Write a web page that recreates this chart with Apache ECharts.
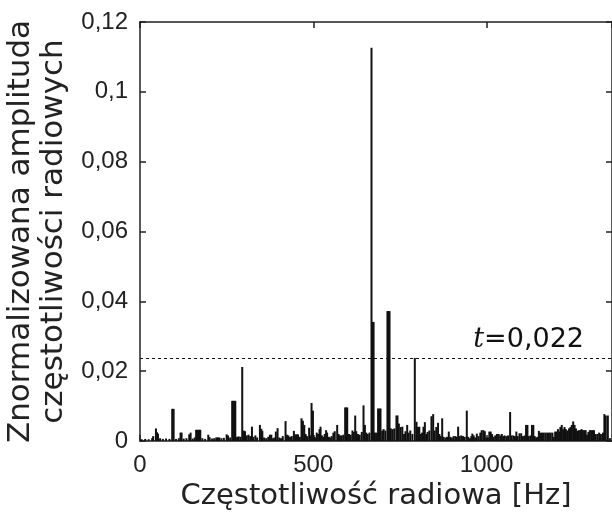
<!DOCTYPE html>
<html>
<head>
<meta charset="utf-8">
<script src="https://cdn.jsdelivr.net/npm/echarts@6/dist/echarts.min.js"></script>
<style>html,body{margin:0;padding:0;background:#fff}#c{width:612px;height:513px}</style>
</head>
<body>
<div id="c"></div>
<script>
// Frequency bins [Hz] and normalized amplitudes
const freqs = [5,15,25,35,38,46,49,52,58,66,75,85,93,95,97,104,112,117,120,126,134,142,146,152,158,162,165,168,171,174,180,188,197,201,208,214,220,223,226,229,235,242,250,254,260,266,269,272,275,280,285,290,295,299,303,308,313,318,323,327,333,338,346,350,353,358,364,370,375,379,384,388,392,397,402,407,412,420,424,428,433,438,444,448,452,456,461,466,470,474,478,482,488,491,495,499,503,507,510,514,518,521,525,529,533,537,540,545,549,553,558,562,569,573,577,582,587,592,595,598,603,608,613,617,621,624,629,634,640,645,649,653,657,662,668,671,674,678,683,687,691,694,699,703,708,714,717,720,724,729,734,740,743,747,752,757,762,766,771,775,780,786,793,798,802,806,810,814,818,822,826,830,835,841,846,850,855,860,864,868,872,876,881,886,891,895,900,905,910,914,918,922,927,932,937,943,947,952,956,959,963,967,972,977,982,986,991,995,999,1004,1008,1012,1016,1020,1025,1030,1035,1040,1044,1048,1052,1057,1062,1068,1072,1077,1082,1086,1090,1095,1100,1105,1110,1114,1118,1122,1127,1131,1135,1139,1143,1147,1151,1155,1160,1165,1170,1175,1180,1185,1190,1194,1198,1202,1206,1210,1213,1217,1221,1225,1229,1233,1238,1242,1246,1250,1254,1258,1262,1266,1270,1274,1278,1282,1286,1290,1294,1298,1302,1306,1310,1315,1320,1325,1330,1336,1340,1344,1350,1356];
const amps = [0.0005,0.0006,0.0005,0.0008,0.0014,0.0036,0.0025,0.0021,0.0008,0.0006,0.0007,0.0006,0.0092,0.0092,0.0092,0.0006,0.0008,0.0024,0.0024,0.0007,0.0008,0.0019,0.0024,0.0007,0.0010,0.0032,0.0032,0.0032,0.0032,0.0032,0.0008,0.0006,0.0018,0.0011,0.0007,0.0008,0.0010,0.0010,0.0010,0.0010,0.0008,0.0009,0.0019,0.0016,0.0010,0.0115,0.0115,0.0115,0.0115,0.0012,0.0013,0.0012,0.0212,0.0030,0.0028,0.0016,0.0018,0.0014,0.0041,0.0012,0.0016,0.0010,0.0046,0.0035,0.0029,0.0010,0.0008,0.0012,0.0018,0.0018,0.0008,0.0010,0.0027,0.0037,0.0010,0.0008,0.0014,0.0057,0.0018,0.0016,0.0012,0.0014,0.0029,0.0019,0.0019,0.0019,0.0012,0.0065,0.0058,0.0046,0.0020,0.0014,0.0038,0.0016,0.0109,0.0087,0.0012,0.0010,0.0024,0.0020,0.0034,0.0041,0.0016,0.0012,0.0020,0.0031,0.0024,0.0012,0.0010,0.0014,0.0024,0.0028,0.0046,0.0020,0.0016,0.0016,0.0018,0.0096,0.0096,0.0096,0.0020,0.0018,0.0030,0.0026,0.0073,0.0028,0.0020,0.0018,0.0026,0.0102,0.0046,0.0024,0.0020,0.0024,0.1126,0.0341,0.0341,0.0024,0.0024,0.0093,0.0093,0.0093,0.0030,0.0034,0.0030,0.0372,0.0372,0.0372,0.0036,0.0034,0.0036,0.0073,0.0073,0.0050,0.0040,0.0041,0.0020,0.0028,0.0046,0.0024,0.0030,0.0020,0.0238,0.0055,0.0040,0.0041,0.0020,0.0024,0.0041,0.0054,0.0020,0.0026,0.0030,0.0071,0.0077,0.0030,0.0040,0.0052,0.0020,0.0014,0.0065,0.0012,0.0010,0.0012,0.0027,0.0012,0.0010,0.0014,0.0014,0.0012,0.0041,0.0014,0.0016,0.0014,0.0012,0.0087,0.0012,0.0008,0.0014,0.0021,0.0016,0.0010,0.0021,0.0014,0.0024,0.0031,0.0031,0.0028,0.0010,0.0010,0.0027,0.0027,0.0020,0.0012,0.0016,0.0020,0.0020,0.0016,0.0020,0.0014,0.0016,0.0014,0.0016,0.0083,0.0016,0.0016,0.0014,0.0027,0.0014,0.0022,0.0022,0.0014,0.0016,0.0046,0.0046,0.0014,0.0016,0.0046,0.0046,0.0014,0.0010,0.0012,0.0029,0.0024,0.0024,0.0024,0.0024,0.0024,0.0024,0.0024,0.0024,0.0012,0.0027,0.0027,0.0034,0.0027,0.0040,0.0046,0.0034,0.0040,0.0034,0.0030,0.0036,0.0040,0.0046,0.0056,0.0046,0.0036,0.0029,0.0031,0.0031,0.0034,0.0031,0.0031,0.0031,0.0018,0.0026,0.0031,0.0031,0.0031,0.0031,0.0020,0.0020,0.0024,0.0020,0.0024,0.0077,0.0073,0.0073,0.0008,0.0006];
const xTicks = [0, 500, 1000];
const yTicks = [0, 0.02, 0.04, 0.06, 0.08, 0.1, 0.12];
const threshold = 0.0238;
const thresholdLabel = '0,022';
const xTitle = 'Częstotliwość radiowa [Hz]';
const yTitle = 'Znormalizowana amplituda\nczęstotliwości radiowych';
const xMax = 1362;

const comma = v => String(+v.toFixed(4)).replace('.', ',');
const axisCol = '#222';
const chart = echarts.init(document.getElementById('c'), null, {renderer: 'canvas'});
const common = {
  axisLine: {show: true, onZero: false, lineStyle: {color: axisCol, width: 1.5}},
  axisTick: {show: true, inside: true, length: 6, lineStyle: {color: axisCol, width: 1.5}},
  splitLine: {show: false}
};
chart.setOption({
  animation: false,
  backgroundColor: '#fff',
  grid: {left: 140, right: 0, top: 22, bottom: 72, containLabel: false, outerBoundsMode: 'none'},
  xAxis: [
    Object.assign({type: 'value', min: 0, max: xMax, interval: 500, position: 'bottom',
      axisLabel: {fontFamily: 'Liberation Sans', fontSize: 24, color: '#222', margin: 12, formatter: v => comma(v), showMaxLabel: false},
      name: xTitle, nameLocation: 'middle', nameGap: 41,
      nameTextStyle: {fontFamily: 'DejaVu Sans', fontSize: 29, color: '#222'}}, common),
    Object.assign({type: 'value', min: 0, max: xMax, interval: 500, position: 'top',
      axisLabel: {show: false}}, common)
  ],
  yAxis: [
    Object.assign({type: 'value', min: 0, max: 0.12, interval: 0.02, position: 'left',
      axisLabel: {fontFamily: 'Liberation Sans', fontSize: 24, color: '#222', margin: 12, formatter: v => comma(v)},
      name: yTitle, nameLocation: 'middle', nameRotate: 90, nameGap: 70,
      nameTextStyle: {fontFamily: 'DejaVu Sans', fontSize: 31, lineHeight: 33, color: '#222'}}, common),
    Object.assign({type: 'value', min: 0, max: 0.12, interval: 0.02, position: 'right',
      axisLabel: {show: false}}, common)
  ],
  series: [{
    type: 'bar',
    data: freqs.map((f, i) => [f, amps[i]]),
    barWidth: 2,
    itemStyle: {color: '#111'},
    markLine: {
      silent: true, symbol: ['none', 'none'],
      lineStyle: {color: '#111', type: [3, 3], width: 1},
      data: [[{coord: [0, threshold]}, {coord: [xMax, threshold]}]],
      label: {show: true, position: 'insideEndTop', distance: [28, 4],
        formatter: '{i|t}=' + thresholdLabel,
        fontFamily: 'DejaVu Sans', fontSize: 27, color: '#111',
        rich: {i: {fontFamily: 'DejaVu Serif', fontStyle: 'italic', fontSize: 27, color: '#111'}}}
    }
  }]
});
</script>
</body>
</html>
